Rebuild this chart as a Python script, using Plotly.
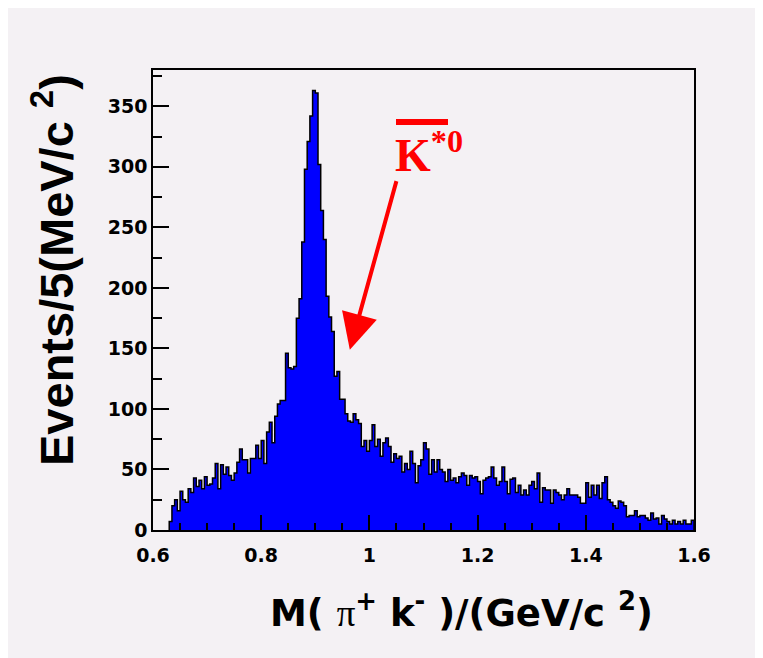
import numpy as np
import plotly.graph_objects as go

# ---- data: events per 5 MeV bin, M(pi+ k-) ----
bin_start = 0.630
bin_width = 0.005
counts_low = [7, 20, 25, 16, 32, 25, 23, 34, 31, 43,
              36, 41, 34, 44, 37, 38, 43, 55, 34, 54,
              46, 52, 45, 41, 47, 56, 67, 58, 58, 47,
              59, 59, 70, 59]
counts_peak = [74, 55, 81, 89, 72, 94, 104, 107, 107, 146,
               134, 133, 135, 175, 191, 238, 298, 321, 342, 363,
               361, 302, 264, 240, 193, 176, 164, 127, 131, 108]
counts_mid = [108, 96, 90, 89, 96, 91, 88, 69, 74, 65,
              74, 87, 69, 75, 61, 72, 76, 69, 56, 63,
              59, 61, 48, 55, 50, 65, 55, 39, 53, 58,
              72, 67, 46, 58, 48, 58, 50, 48, 40, 50,
              41, 43, 39, 44, 47, 45, 37, 45, 43, 44,
              40, 30, 41, 43, 44, 52, 43, 37, 40, 52,
              40, 30, 42, 43, 31, 37, 29, 33, 29, 37]
counts_tail = [40, 34, 47, 23, 35, 33, 33, 22, 33, 31,
               29, 25, 29, 34, 29, 29, 29, 27, 22, 22,
               39, 27, 37, 29, 37, 26, 39, 44, 25, 23,
               20, 18, 24, 23, 20, 11, 12, 12, 16, 11,
               12, 12, 10, 8, 14, 9, 10, 5, 12, 9,
               7, 5, 8, 5, 7, 5, 8, 5, 5, 8]
x_ticks = [0.6, 0.8, 1.0, 1.2, 1.4, 1.6]
x_ticklabels = ["0.6", "0.8", "1", "1.2", "1.4", "1.6"]
label_mass, label_count = 0.9638, 149  # arrow tip (data coords)

counts = counts_low + counts_peak + counts_mid + counts_tail
n = len(counts)
edges = bin_start + bin_width * np.arange(n + 1)
xs = np.concatenate([[edges[0]], edges, [edges[-1]]])
ys = [0] + counts + [counts[-1], 0]

W, H = 763, 658
OFF = 8  # page body margin
L, T = 145, 62
pw, ph = 541, 460
R, B = W - L - pw, H - T - ph


def px(x):
    return (x - OFF - L) / pw


def py(y):
    return (T + ph + OFF - y) / ph


BG = "#f4f1f4"
fig = go.Figure()
fig.add_trace(go.Scatter(
    x=xs, y=ys, mode="lines", line_shape="hv",
    line=dict(color="black", width=1.5),
    fill="tozeroy", fillcolor="#0000ff", hoverinfo="skip", showlegend=False))

tickfont = dict(family="DejaVu Sans", size=19, color="black", weight="bold")
fig.update_layout(
    width=W, height=H,
    margin=dict(l=L, r=R, t=T, b=B),
    paper_bgcolor=BG, plot_bgcolor=BG,
    showlegend=False,
    xaxis=dict(range=[0.6, 1.6], tickvals=x_ticks, ticktext=x_ticklabels,
               ticks="inside", ticklen=15, tickwidth=1.5, tickcolor="black",
               minor=dict(ticks="inside", dtick=0.05, ticklen=7, tickwidth=1.5, tickcolor="black"),
               showline=True, mirror=True, linecolor="black", linewidth=1.5,
               showgrid=False, zeroline=False, tickfont=tickfont, ticklabelstandoff=7),
    yaxis=dict(range=[0, 380], dtick=50,
               ticks="inside", ticklen=16, tickwidth=1.5, tickcolor="black",
               minor=dict(ticks="inside", dtick=25, ticklen=9, tickwidth=1.5, tickcolor="black"),
               showline=True, mirror=True, linecolor="black", linewidth=1.5,
               showgrid=False, zeroline=False, tickfont=tickfont),
)

# axis titles
fig.add_annotation(xref="paper", yref="paper", x=px(53), y=py(270),
                   text="Events/5(MeV/c <sup>2</sup>)", textangle=-90, showarrow=False,
                   font=dict(family="Liberation Sans", size=47, color="black", weight="bold"),
                   xanchor="center", yanchor="middle")
fig.add_annotation(xref="paper", yref="paper", x=px(655), y=py(610),
                   text="M( <span style='font-family:Liberation Serif;font-weight:normal'>π</span><sup>+</sup> k<sup>-</sup> )/(GeV/c <sup>2</sup>)",
                   showarrow=False,
                   font=dict(family="DejaVu Sans", size=37, color="black", weight="bold"),
                   xanchor="right", yanchor="middle")

# K*0 label with bar and arrow
fig.add_annotation(xref="paper", yref="paper", x=px(393), y=py(152),
                   text="K<sup>*0</sup>", showarrow=False,
                   font=dict(family="Liberation Serif", size=46, color="red", weight="bold"),
                   xanchor="left", yanchor="middle")
fig.add_shape(type="line", xref="paper", yref="paper",
              x0=px(396), x1=px(448), y0=py(122), y1=py(122),
              line=dict(color="red", width=6))
fig.add_annotation(x=label_mass, y=label_count, xref="x", yref="y",
                   ax=47, ay=-170, text="", showarrow=True,
                   arrowcolor="red", arrowwidth=4, arrowhead=2, arrowsize=1.8)

fig.write_html("out.html")
